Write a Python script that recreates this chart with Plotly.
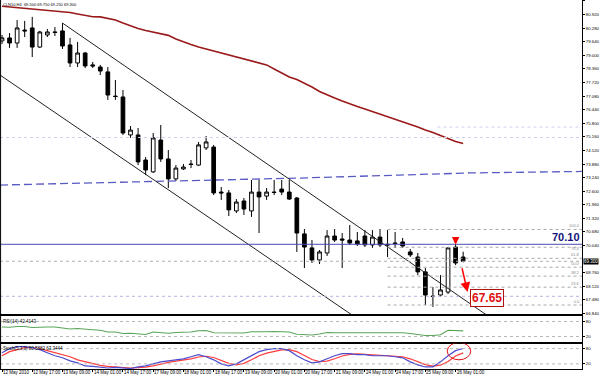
import plotly.graph_objects as go

# ---------------- data ----------------
bar_index = list(range(62))

opens = [79.68, 79.82, 79.58, 80.19, 80.29, 79.39, 79.96, 80.10, 80.15, 79.49,
         78.64, 79.11, 78.55, 78.45, 78.22, 77.08, 77.04, 75.25, 75.25, 74.07,
         73.51, 75.01, 74.12, 73.18, 73.65, 73.88, 73.83, 74.64, 74.68, 72.56,
         72.52, 71.67, 72.14, 71.67, 72.56, 72.37, 72.56, 72.70, 72.56, 72.28,
         70.59, 69.93, 69.36, 69.69, 70.49, 70.35, 70.30, 70.26, 70.49, 70.07,
         70.44, 70.10, 70.16, 70.21, 69.74, 69.50, 68.80, 67.66, 67.71, 67.85,
         69.97, 69.50]
highs = [79.96, 80.05, 80.66, 80.62, 80.81, 80.15, 80.24, 80.33, 80.52, 79.82,
         79.63, 79.16, 78.69, 78.55, 78.45, 77.84, 77.37, 75.67, 75.58, 74.21,
         75.34, 75.72, 74.54, 73.83, 73.88, 74.07, 74.92, 75.20, 74.78, 72.80,
         72.66, 72.23, 72.28, 73.13, 73.13, 72.75, 73.13, 73.13, 73.13, 72.33,
         70.82, 70.30, 69.83, 70.77, 70.82, 70.63, 71.01, 70.68, 70.77, 70.77,
         70.82, 70.77, 70.68, 70.40, 69.88, 69.69, 68.98, 68.09, 68.65, 69.97,
         70.11, 69.75]
lows = [79.53, 79.35, 79.35, 79.86, 78.92, 79.35, 79.86, 79.91, 79.30, 78.45,
        78.45, 78.40, 78.40, 78.07, 76.90, 76.90, 75.25, 75.11, 73.83, 73.36,
        73.46, 73.98, 72.75, 73.08, 73.60, 73.69, 73.79, 74.54, 72.42, 72.19,
        71.43, 71.57, 71.48, 71.39, 70.63, 72.19, 72.42, 72.42, 72.19, 69.74,
        68.98, 69.22, 69.17, 69.55, 70.21, 68.98, 70.07, 70.02, 69.97, 69.93,
        69.97, 69.50, 69.93, 69.93, 69.50, 68.65, 67.24, 67.15, 67.62, 67.76,
        69.12, 69.25]
closes = [79.82, 79.58, 80.29, 80.15, 79.39, 80.10, 80.10, 80.08, 79.44, 78.64,
          79.11, 78.50, 78.50, 78.26, 77.13, 77.06, 75.34, 75.48, 73.98, 73.60,
          75.11, 74.12, 73.18, 73.69, 73.74, 73.86, 74.78, 74.92, 72.52, 72.52,
          71.72, 72.09, 71.76, 72.56, 72.33, 72.56, 72.54, 72.56, 72.23, 70.63,
          69.97, 69.36, 69.74, 70.49, 70.30, 70.30, 70.16, 70.11, 70.07, 70.44,
          70.07, 70.07, 70.14, 70.02, 69.60, 68.80, 67.71, 67.64, 67.95, 69.93,
          69.22, 69.30]

ma_red = [81.31, 81.28, 81.25, 81.22, 81.18, 81.15, 81.12, 81.08, 81.06, 81.02,
          80.95, 80.88, 80.82, 80.81, 80.74, 80.66, 80.52, 80.38, 80.26, 80.17,
          80.09, 80.01, 79.94, 79.77, 79.63, 79.51, 79.39, 79.30, 79.20, 79.11,
          79.02, 78.92, 78.83, 78.73, 78.64, 78.55, 78.36, 78.17, 77.98, 77.86,
          77.70, 77.51, 77.30, 77.13, 76.99, 76.85, 76.71, 76.59, 76.47, 76.35,
          76.24, 76.10, 75.98, 75.86, 75.74, 75.62, 75.48, 75.37, 75.22, 75.08,
          74.94, 74.85]

ma_long_x = [-0.26, 12.96, 26.2, 39.4, 52.6, 61.9, 76.7]
ma_long_y = [72.89, 72.99, 73.11, 73.22, 73.36, 73.46, 73.53]

channel_upper_x = [8, 64.3]
channel_upper_y = [80.52, 66.72]
channel_lower_x = [-0.26, 46.3]
channel_lower_y = [78.07, 66.77]

level_target = 70.10
level_goal = 67.65
last_price = 69.30
fib_high = 70.80
fib_low = 67.24
fib_start = 51
fib_levels = [100.0, 76.4, 61.8, 50.0, 38.2, 23.6, 0.0]
fib_label_anchor = ["bottom", "middle", "bottom", "bottom", "bottom", "bottom", "bottom"]
faint_levels = [75.13]
faint_short = (57.6, 75.62)

rsi = [58, 57, 60, 60, 56, 58, 58, 58, 55, 50,
       52, 48, 47, 45, 38, 38, 32, 33, 29, 28,
       38, 36, 33, 36, 37, 38, 43, 44, 35, 35,
       33, 36, 34, 39, 38, 39, 40, 39, 38, 29,
       27, 26, 30, 36, 35, 35, 35, 34, 34, 36,
       35, 35, 35, 35, 32, 28, 24, 24, 27, 45,
       43, 42.41]
stoch_k = [64, 80, 88, 88, 84, 76, 64, 52, 44, 32,
           24, 12, 10, 8, 4, 6, 3, 2, 8, 12,
           20, 28, 32, 36, 40, 48, 56, 48, 36, 20,
           12, 20, 36, 52, 68, 76, 80, 80, 72, 52,
           36, 24, 28, 40, 52, 60, 60, 56, 56, 52,
           52, 52, 48, 44, 28, 16, 8, 8, 28, 52,
           72, 80.59]
stoch_d = [52, 68, 76, 84, 84, 80, 72, 64, 56, 48,
           36, 28, 20, 14, 10, 8, 6, 4, 5, 7,
           12, 20, 26, 31, 35, 40, 47, 50, 45, 34,
           22, 16, 22, 36, 52, 62, 70, 75, 76, 68,
           53, 37, 29, 31, 40, 51, 57, 59, 57, 55,
           53, 52, 51, 48, 40, 29, 17, 11, 15, 29,
           51, 63.34]

time_tick_idx = [0, 4, 8, 12, 16, 20, 24, 28, 32, 36, 40, 44, 48, 52, 56, 60]
time_tick_lbl = ["12 May 2010", "12 May 17:00", "13 May 09:00", "14 May 01:00",
                 "14 May 17:00", "17 May 09:00", "18 May 01:00", "18 May 17:00",
                 "19 May 09:00", "20 May 01:00", "20 May 17:00", "21 May 09:00",
                 "24 May 01:00", "24 May 17:00", "25 May 09:00", "26 May 01:00"]
price_ticks = [66.84, 67.48, 68.12, 68.76, 70.04, 70.68, 71.32, 71.96, 72.60,
               73.24, 73.88, 74.52, 75.16, 75.80, 76.44, 77.08, 77.72, 78.36,
               79.00, 79.64, 80.28, 80.92, 81.56]
osc_ticks = [20, 80]

title_main = "CLN10,H4  69.500 69.750 69.250 69.300"
title_rsi = "RSI(14) 42.4143"
title_stoch = "Stoch(5,3,3) 80.5882 63.3444"

# red arrows / circle (bar index, value)
down_arrow = (60, 70.09)
target_arrow_tail = (60.81, 69.04)
target_arrow_tip = (61.58, 67.85)
goal_box = (64.2, 67.59)
circle_x = (58.9, 62.0)
circle_y = (36, 104)

# ---------------- layout constants ----------------
XR = [-0.265, 76.72]
YR_MAIN = [66.793, 81.606]
D_MAIN = [0.1477, 1.0]
D_RSI = [0.0745, 0.1423]
D_STO = [0.0, 0.0691]
FONT_SMALL = "Liberation Sans"
SMALL = dict(family=FONT_SMALL, size=4.5, color="black")
AXIS = dict(family=FONT_SMALL, size=4.3, color="black")

fig = go.Figure()

fig.add_trace(go.Candlestick(
    x=bar_index, open=opens, high=highs, low=lows, close=closes,
    xaxis="x2", yaxis="y", whiskerwidth=0, hoverinfo="skip",
    increasing=dict(line=dict(color="black", width=1), fillcolor="white"),
    decreasing=dict(line=dict(color="black", width=1), fillcolor="black")))

fig.add_trace(go.Scatter(x=bar_index, y=ma_red, mode="lines", xaxis="x2", yaxis="y",
                         line=dict(color="#9a1a1a", width=1.6), hoverinfo="skip"))
fig.add_trace(go.Scatter(x=ma_long_x, y=ma_long_y, mode="lines", xaxis="x2", yaxis="y",
                         line=dict(color="#5a5ac4", width=1.3, dash="8px,4px"), hoverinfo="skip"))
fig.add_trace(go.Scatter(x=channel_upper_x, y=channel_upper_y, mode="lines", xaxis="x2", yaxis="y",
                         line=dict(color="#222222", width=1), hoverinfo="skip"))
fig.add_trace(go.Scatter(x=channel_lower_x, y=channel_lower_y, mode="lines", xaxis="x2", yaxis="y",
                         line=dict(color="#222222", width=1), hoverinfo="skip"))

fig.add_trace(go.Scatter(x=bar_index, y=rsi, mode="lines", xaxis="x3", yaxis="y2",
                         line=dict(color="#5aa55a", width=1.2), hoverinfo="skip"))
fig.add_trace(go.Scatter(x=bar_index, y=stoch_d, mode="lines", xaxis="x", yaxis="y3",
                         line=dict(color="#ff3b3b", width=1.2), hoverinfo="skip"))
fig.add_trace(go.Scatter(x=bar_index, y=stoch_k, mode="lines", xaxis="x", yaxis="y3",
                         line=dict(color="#4b4bcf", width=1.2), hoverinfo="skip"))

shapes = []
shapes.append(dict(type="line", xref="paper", yref="y", x0=0, x1=1, y0=level_target, y1=level_target,
                   line=dict(color="#4a4ab0", width=1)))
shapes.append(dict(type="line", xref="paper", yref="y", x0=0, x1=1, y0=last_price, y1=last_price,
                   line=dict(color="#b0b0b0", width=1, dash="dot")))
shapes.append(dict(type="line", xref="paper", yref="y", x0=0, x1=1, y0=level_goal, y1=level_goal,
                   line=dict(color="#b4b4e4", width=1, dash="dot")))
for lv in faint_levels:
    shapes.append(dict(type="line", xref="paper", yref="y", x0=0, x1=1, y0=lv, y1=lv,
                       line=dict(color="#d0d0ee", width=1, dash="dot")))
shapes.append(dict(type="line", xref="x2", yref="y", x0=faint_short[0], x1=XR[1],
                   y0=faint_short[1], y1=faint_short[1],
                   line=dict(color="#d0d0ee", width=1, dash="dot")))
fib_prices = [fib_low + (fib_high - fib_low) * f / 100.0 for f in fib_levels]
for f, p in zip(fib_levels, fib_prices):
    shapes.append(dict(type="line", xref="x2", yref="y", x0=fib_start, x1=XR[1], y0=p, y1=p,
                       line=dict(color="#a8a8a8", width=1, dash="dot")))
for yr in ["y2", "y3"]:
    for lv in osc_ticks:
        shapes.append(dict(type="line", xref="paper", yref=yr, x0=0, x1=1, y0=lv, y1=lv,
                           line=dict(color="#b8b8b8", width=1, dash="dot")))
shapes.append(dict(type="circle", xref="x", yref="y3", x0=circle_x[0], x1=circle_x[1],
                   y0=circle_y[0], y1=circle_y[1], line=dict(color="#e01010", width=1)))
shapes.append(dict(type="line", xref="paper", yref="paper", x0=0.001, x1=0.001, y0=0, y1=1,
                   line=dict(color="black", width=1)))

annotations = []
annotations.append(dict(text=title_main, xref="paper", yref="paper", x=0.004, y=0.997,
                        xanchor="left", yanchor="top", showarrow=False, borderpad=0,
                        font=dict(family=FONT_SMALL, size=4, color="black")))
annotations.append(dict(text=title_rsi, xref="paper", yref="paper", x=0.004, y=D_RSI[1] - 0.004,
                        xanchor="left", yanchor="top", showarrow=False, borderpad=0, font=SMALL))
annotations.append(dict(text=title_stoch, xref="paper", yref="paper", x=0.004, y=D_STO[1] - 0.004,
                        xanchor="left", yanchor="top", showarrow=False, borderpad=0, font=SMALL))
for ti, tl in zip(time_tick_idx, time_tick_lbl):
    annotations.append(dict(text=tl, xref="x", yref="paper", x=ti, y=0, xanchor="left",
                            yanchor="top", showarrow=False, borderpad=0, font=SMALL))
for f, p, anc in zip(fib_levels, fib_prices, fib_label_anchor):
    annotations.append(dict(text="%.1f" % f, xref="paper", yref="y", x=0.998, y=p,
                            xanchor="right", yanchor=anc, showarrow=False, borderpad=0,
                            yshift=-1 if anc == "middle" else 0,
                            font=dict(family=FONT_SMALL, size=4, color="#8a8a8a")))
annotations.append(dict(text="<b>%.2f</b>" % level_target, xref="paper", yref="y", x=0.999,
                        y=level_target, xanchor="right", yanchor="middle", showarrow=False,
                        borderpad=0, yshift=7.5,
                        font=dict(family="Liberation Sans", size=11, color="#14147a")))
annotations.append(dict(text="%.3f" % last_price, xref="paper", yref="y", x=1.002, y=last_price,
                        xanchor="left", yanchor="middle", showarrow=False, bgcolor="black",
                        borderpad=0, font=dict(family=FONT_SMALL, size=4.5, color="white")))
annotations.append(dict(text="<b>%.2f</b>" % level_goal, xref="x2", yref="y", x=goal_box[0],
                        y=goal_box[1], xanchor="center", yanchor="middle", showarrow=False,
                        bgcolor="white", bordercolor="#b01010", borderwidth=1, borderpad=1,
                        font=dict(family="Liberation Sans", size=12, color="#e01010")))
annotations.append(dict(text="", xref="x2", yref="y", x=down_arrow[0], y=down_arrow[1],
                        showarrow=True, ax=0, ay=-9, arrowhead=2, arrowsize=0.6,
                        arrowwidth=2.5, arrowcolor="#ff0000"))
annotations.append(dict(text="", xref="x2", yref="y", x=target_arrow_tip[0], y=target_arrow_tip[1],
                        axref="x2", ayref="y", ax=target_arrow_tail[0], ay=target_arrow_tail[1],
                        showarrow=True, arrowhead=2, arrowsize=1.3, arrowwidth=1.5,
                        arrowcolor="#ff0000"))

common_x = dict(showgrid=False, zeroline=False, range=XR, rangeslider=dict(visible=False),
                showline=True, linecolor="black", linewidth=1, mirror=True, automargin=False)
common_y = dict(showgrid=False, zeroline=False, side="right", showline=True, linecolor="black",
                linewidth=1, mirror=True, ticks="outside", ticklen=2, tickcolor="black",
                tickfont=AXIS, automargin=False)

fig.update_layout(
    template="none",
    width=600, height=376,
    margin=dict(l=0, r=18, t=0, b=7),
    paper_bgcolor="white", plot_bgcolor="white",
    showlegend=False,
    font=dict(family=FONT_SMALL, size=5, color="black"),
    xaxis=dict(domain=[0, 1], anchor="y3", tickvals=time_tick_idx, showticklabels=False,
               ticks="outside", ticklen=2, tickcolor="black", **common_x),
    xaxis2=dict(domain=[0, 1], anchor="y", matches="x", showticklabels=False, ticks="", **common_x),
    xaxis3=dict(domain=[0, 1], anchor="y2", matches="x", showticklabels=False, ticks="", **common_x),
    yaxis=dict(domain=D_MAIN, anchor="x2", range=YR_MAIN, tickvals=price_ticks,
               ticktext=["%.3f" % v for v in price_ticks], **common_y),
    yaxis2=dict(domain=D_RSI, anchor="x3", range=[0, 100], tickvals=osc_ticks,
                ticktext=[str(v) for v in osc_ticks], **common_y),
    yaxis3=dict(domain=D_STO, anchor="x", range=[0, 100], tickvals=osc_ticks,
                ticktext=[str(v) for v in osc_ticks], **common_y),
    shapes=shapes, annotations=annotations,
)

fig.write_html("out.html", config={"displayModeBar": False},
               post_script="document.body.style.margin='0';document.body.style.padding='0';")
